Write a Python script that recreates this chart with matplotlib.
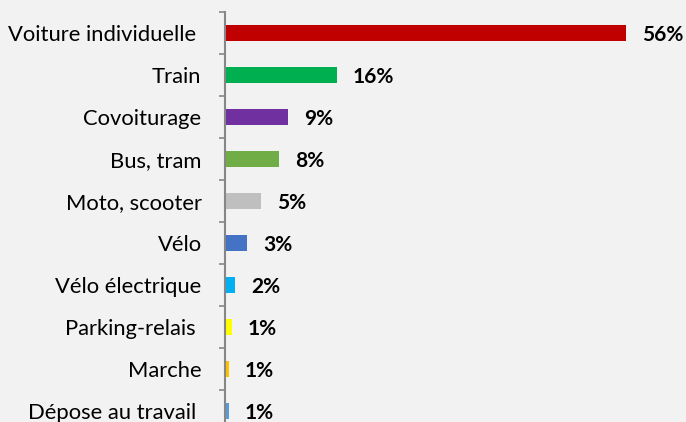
import numpy as np
import matplotlib
matplotlib.use('Agg')
import matplotlib.pyplot as plt

# Données
categories = ['Voiture individuelle ', 'Train', 'Covoiturage', 'Bus, tram',
              'Moto, scooter', 'Vélo', 'Vélo électrique', 'Parking-relais ',
              'Marche', 'Dépose au travail ']
values = [56.0, 15.7, 8.9, 7.6, 5.1, 3.2, 1.5, 1.0, 0.6, 0.6]
value_labels = ['56%', '16%', '9%', '8%', '5%', '3%', '2%', '1%', '1%', '1%']
colors = ['#c00000', '#00b050', '#7030a0', '#70ad47', '#bfbfbf',
          '#4472c4', '#00b0f0', '#ffff00', '#ffc000', '#5b9bd5']

plt.rcParams['font.family'] = ['Lato', 'DejaVu Sans']
BG = '#f2f2f2'

W, H = 686, 422
fig = plt.figure(figsize=(W / 100, H / 100), dpi=100, facecolor=BG)
# axe gauche à x=224 px, bandes de 42 px, la dernière coupée en bas
ax = fig.add_axes([224.5 / W, -10 / H, 430 / W, 420 / H], facecolor=BG)

n = len(categories)
y = np.arange(n)
ax.barh(y, values, height=0.38, color=colors, zorder=2)
ax.set_ylim(n - 0.5, -0.5)
ax.set_xlim(0, 60)

for yi, v, lab in zip(y, values, value_labels):
    ax.annotate(lab, (v, yi), xytext=(16, -2), textcoords='offset pixels',
                ha='left', va='center', fontsize=15, fontweight='bold',
                color='black')

ax.set_yticks(y)
ax.set_yticklabels(categories, fontsize=15.8)
ax.set_yticks(np.arange(-0.5, n, 1), minor=True)
ax.tick_params(axis='y', which='major', length=0, pad=16.5)
ax.tick_params(axis='y', which='minor', length=4.5, width=1.2,
               color='#868686', direction='out')
ax.set_xticks([])

for side in ['top', 'right', 'bottom']:
    ax.spines[side].set_visible(False)
ax.spines['left'].set_color('#868686')
ax.spines['left'].set_linewidth(1.5)

fig.savefig('out.png', dpi=100, facecolor=BG)
